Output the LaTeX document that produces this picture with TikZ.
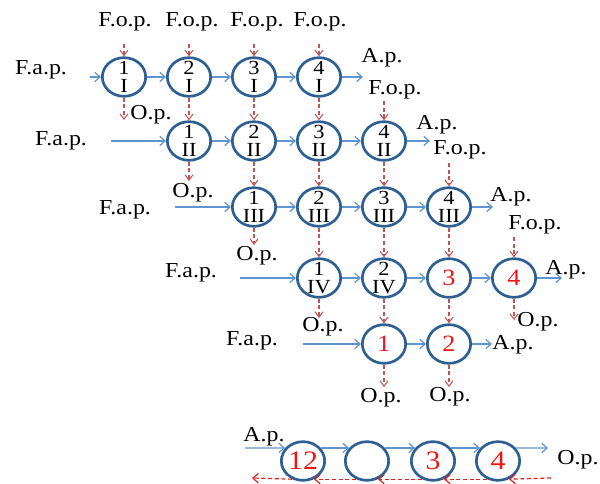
\documentclass[tikz,border=0pt]{standalone}
\usepackage{fontspec}
\setmainfont{Liberation Serif}
\usepackage{graphicx}
\usetikzlibrary{shapes.geometric,arrows.meta}
\definecolor{ring}{RGB}{46,95,145}
\definecolor{flow}{RGB}{95,148,205}
\definecolor{dred}{RGB}{190,85,85}
\definecolor{bred}{RGB}{228,30,30}
\definecolor{num}{RGB}{240,20,20}
\newcommand\sx[1]{\scalebox{1.12}[1]{#1}}
\tikzset{
 circ/.style={draw=ring, line width=2pt, ellipse, minimum width=32.5pt, minimum height=29pt, inner sep=0pt},
 ctext/.style={align=center, inner sep=0pt, font=\fontsize{15}{13.5}\selectfont},
 rnum/.style={inner sep=0pt, text=num, font=\fontsize{17.5}{17.5}\selectfont},
 bnum/.style={inner sep=0pt, text=num, font=\fontsize{20}{20}\selectfont},
 lab/.style={inner sep=0pt, font=\fontsize{16}{16}\selectfont},
 flowarr/.style={draw=flow, line width=0.9pt, -{Straight Barb[length=4pt,width=7pt]}},
 redarr/.style={draw=dred, line width=0.8pt, dash pattern=on 3pt off 2pt, -{Straight Barb[length=4pt,width=6pt]}},
 botarr/.style={draw=bred, line width=0.9pt, dash pattern=on 3pt off 2pt, -{Straight Barb[length=4pt,width=7pt]}},
}
\begin{document}
\begin{tikzpicture}[x=0.75pt,y=-0.75pt]
\useasboundingbox (0,0) rectangle (600,484);
% ---- circles ----
% row 1
\node[circ] (r1c1) at (124,77) {};
\node[circ] (r1c2) at (189,77) {};
\node[circ] (r1c3) at (254,77) {};
\node[circ] (r1c4) at (319,77) {};
% row 2
\node[circ] (r2c2) at (189,141) {};
\node[circ] (r2c3) at (254,141) {};
\node[circ] (r2c4) at (319,141) {};
\node[circ] (r2c5) at (384,141) {};
% row 3
\node[circ] (r3c3) at (254,207) {};
\node[circ] (r3c4) at (319,207) {};
\node[circ] (r3c5) at (384,207) {};
\node[circ] (r3c6) at (449,207) {};
% row 4
\node[circ] (r4c4) at (319,278) {};
\node[circ] (r4c5) at (384,278) {};
\node[circ] (r4c6) at (449,278) {};
\node[circ] (r4c7) at (514,278) {};
% row 5
\node[circ] (r5c5) at (384,344) {};
\node[circ] (r5c6) at (449,344) {};
% bottom row
\node[circ] (b1) at (303,461) {};
\node[circ] (b2) at (367,461) {};
\node[circ] (b3) at (433,461) {};
\node[circ] (b4) at (498,461) {};
% ---- circle texts ----
\node[ctext] (t11) at (r1c1) {\sx{1}\\\sx{I}};
\node[ctext] (t12) at (r1c2) {\sx{2}\\\sx{I}};
\node[ctext] (t13) at (r1c3) {\sx{3}\\\sx{I}};
\node[ctext] (t14) at (r1c4) {\sx{4}\\\sx{I}};
\node[ctext] (t22) at (r2c2) {\sx{1}\\\sx{II}};
\node[ctext] (t23) at (r2c3) {\sx{2}\\\sx{II}};
\node[ctext] (t24) at (r2c4) {\sx{3}\\\sx{II}};
\node[ctext] (t25) at (r2c5) {\sx{4}\\\sx{II}};
\node[ctext] (t33) at (r3c3) {\sx{1}\\\sx{III}};
\node[ctext] (t34) at (r3c4) {\sx{2}\\\sx{III}};
\node[ctext] (t35) at (r3c5) {\sx{3}\\\sx{III}};
\node[ctext] (t36) at (r3c6) {\sx{4}\\\sx{III}};
\node[ctext] (t44) at (r4c4) {\sx{1}\\\sx{IV}};
\node[ctext] (t45) at (r4c5) {\sx{2}\\\sx{IV}};
\node[rnum] (t46) at (r4c6) {\sx{3}};
\node[rnum] (t47) at (r4c7) {\sx{4}};
\node[rnum] (t55) at (r5c5) {\sx{1}};
\node[rnum] (t56) at (r5c6) {\sx{2}};
\node[bnum] (tb1) at (b1) {\sx{12}};
\node[bnum] (tb3) at (b3) {\sx{3}};
\node[bnum] (tb4) at (b4) {\sx{4}};
% ---- labels ----
\node[lab] (fopa) at (125,22) {\sx{F.o.p.}};
\node[lab] (fopb) at (192,22) {\sx{F.o.p.}};
\node[lab] (fopc) at (257,22) {\sx{F.o.p.}};
\node[lab] (fopd) at (320,22) {\sx{F.o.p.}};
\node[lab] (fop2) at (395,90) {\sx{F.o.p.}};
\node[lab] (fop3) at (460,150) {\sx{F.o.p.}};
\node[lab] (fop4) at (535,225) {\sx{F.o.p.}};
\node[lab] (fap1) at (41,70) {\sx{F.a.p.}};
\node[lab] (fap2) at (61,141) {\sx{F.a.p.}};
\node[lab] (fap3) at (125,210) {\sx{F.a.p.}};
\node[lab] (fap4) at (191,273) {\sx{F.a.p.}};
\node[lab] (fap5) at (252,341) {\sx{F.a.p.}};
\node[lab] (ap1) at (382,58) {\sx{A.p.}};
\node[lab] (ap2) at (437,125) {\sx{A.p.}};
\node[lab] (ap3) at (511,197) {\sx{A.p.}};
\node[lab] (ap4) at (566,270) {\sx{A.p.}};
\node[lab] (ap5) at (513,345) {\sx{A.p.}};
\node[lab] (apb) at (264,437) {\sx{A.p.}};
\node[lab] (op1) at (151,115) {\sx{O.p.}};
\node[lab] (op2) at (193,193) {\sx{O.p.}};
\node[lab] (op3) at (257,256) {\sx{O.p.}};
\node[lab] (op4) at (323,327) {\sx{O.p.}};
\node[lab] (op47) at (538,322) {\sx{O.p.}};
\node[lab] (op55) at (381,398) {\sx{O.p.}};
\node[lab] (op56) at (450,397) {\sx{O.p.}};
\node[lab] (opb) at (578,460) {\sx{O.p.}};
% ---- free ends ----
\coordinate (s1) at (90,77);
\coordinate (s2) at (111,141);
\coordinate (s3) at (175,207);
\coordinate (s4) at (240,278);
\coordinate (s5) at (303,344);
\coordinate (e1) at (363,77);
\coordinate (e2) at (430,141);
\coordinate (e3) at (493,207);
\coordinate (e4) at (562,278);
\coordinate (e5) at (492,344);
\coordinate (fa) at (124,44);
\coordinate (fb) at (189,44);
\coordinate (fc) at (254,44);
\coordinate (fd) at (319,44);
\coordinate (f2) at (384,101);
\coordinate (f3) at (449,163);
\coordinate (f4) at (514,237);
\coordinate (o1) at (124,120);
\coordinate (o2) at (189,181);
\coordinate (o3) at (254,245);
\coordinate (o4) at (319,318);
\coordinate (o47) at (514,320);
\coordinate (o55) at (384,387);
\coordinate (o56) at (449,387);
\coordinate (bs) at (245,448);
\coordinate (be) at (548,448);
\coordinate (rs) at (551,478);
\coordinate (re) at (252,478);
% ---- blue flow arrows ----
\draw[flowarr] (s1) -- (r1c1);
\draw[flowarr] (r1c1) -- (r1c2);
\draw[flowarr] (r1c2) -- (r1c3);
\draw[flowarr] (r1c3) -- (r1c4);
\draw[flowarr] (r1c4) -- (e1);
\draw[flowarr] (s2) -- (r2c2);
\draw[flowarr] (r2c2) -- (r2c3);
\draw[flowarr] (r2c3) -- (r2c4);
\draw[flowarr] (r2c4) -- (r2c5);
\draw[flowarr] (r2c5) -- (e2);
\draw[flowarr] (s3) -- (r3c3);
\draw[flowarr] (r3c3) -- (r3c4);
\draw[flowarr] (r3c4) -- (r3c5);
\draw[flowarr] (r3c5) -- (r3c6);
\draw[flowarr] (r3c6) -- (e3);
\draw[flowarr] (s4) -- (r4c4);
\draw[flowarr] (r4c4) -- (r4c5);
\draw[flowarr] (r4c5) -- (r4c6);
\draw[flowarr] (r4c6) -- (r4c7);
\draw[flowarr] (r4c7) -- (e4);
\draw[flowarr] (s5) -- (r5c5);
\draw[flowarr] (r5c5) -- (r5c6);
\draw[flowarr] (r5c6) -- (e5);
% ---- red dashed arrows ----
\draw[redarr] (fa) -- (r1c1);
\draw[redarr] (fb) -- (r1c2);
\draw[redarr] (fc) -- (r1c3);
\draw[redarr] (fd) -- (r1c4);
\draw[redarr] (f2) -- (r2c5);
\draw[redarr] (f3) -- (r3c6);
\draw[redarr] (f4) -- (r4c7);
\draw[redarr] (r1c1) -- (o1);
\draw[redarr] (r1c2) -- (r2c2);
\draw[redarr] (r1c3) -- (r2c3);
\draw[redarr] (r1c4) -- (r2c4);
\draw[redarr] (r2c2) -- (o2);
\draw[redarr] (r2c3) -- (r3c3);
\draw[redarr] (r2c4) -- (r3c4);
\draw[redarr] (r2c5) -- (r3c5);
\draw[redarr] (r3c3) -- (o3);
\draw[redarr] (r3c4) -- (r4c4);
\draw[redarr] (r3c5) -- (r4c5);
\draw[redarr] (r3c6) -- (r4c6);
\draw[redarr] (r4c4) -- (o4);
\draw[redarr] (r4c5) -- (r5c5);
\draw[redarr] (r4c6) -- (r5c6);
\draw[redarr] (r4c7) -- (o47);
\draw[redarr] (r5c5) -- (o55);
\draw[redarr] (r5c6) -- (o56);
% ---- bottom row ----
\draw[flowarr] (bs) -- (b1.144);
\draw[flowarr] (b1.36) -- (b2.144);
\draw[flowarr] (b2.36) -- (b3.144);
\draw[flowarr] (b3.36) -- (b4.144);
\draw[flowarr] (b4.36) -- (be);
\draw[botarr] (rs) -- (b4.-59);
\draw[botarr] (b4.239) -- (b3.-59);
\draw[botarr] (b3.239) -- (b2.-59);
\draw[botarr] (b2.239) -- (b1.-59);
\draw[botarr] (b1.239) -- (re);
\end{tikzpicture}
\end{document}
